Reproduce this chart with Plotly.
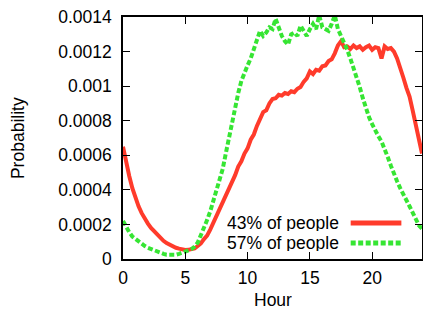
import plotly.graph_objects as go

# hours sampled every quarter hour
hours = [i * 0.25 for i in range(97)]

# 43% of people (units of 1e-4)
red_vals = [
    6.5, 5.6, 4.8, 4.1, 3.55, 3.05, 2.65, 2.3, 2.05, 1.8, 1.6, 1.4, 1.2, 1.05, 0.92, 0.82,
    0.72, 0.65, 0.6, 0.55, 0.52, 0.53, 0.55, 0.62, 0.75, 0.9, 1.15, 1.35, 1.7, 2.1, 2.45, 2.8,
    3.2, 3.65, 4.05, 4.5, 4.85, 5.35, 5.65, 6.1, 6.4, 6.9, 7.2, 7.7, 8.1, 8.5, 8.6, 9.0,
    9.25, 9.3, 9.5, 9.45, 9.6, 9.55, 9.7, 9.65, 9.85, 9.95, 10.25, 10.45, 10.85, 10.7, 10.95, 10.9,
    11.15, 11.2, 11.45, 11.55, 11.9, 12.35, 12.6, 12.25, 12.3, 12.15, 12.35, 12.2, 12.3, 12.1, 12.25, 12.35,
    12.1, 12.25, 12.2, 11.6, 12.3, 12.15, 12.2, 12.0, 11.6, 11.1, 10.5, 9.9, 9.4, 8.6, 7.8, 7.0,
    6.1,
]

# 57% of people (units of 1e-4)
green_vals = [
    2.2, 1.85, 1.55, 1.3, 1.15, 1.0, 0.85, 0.75, 0.65, 0.58, 0.5, 0.42, 0.32, 0.3, 0.25, 0.24,
    0.22, 0.25, 0.3, 0.35, 0.4, 0.5, 0.58, 0.72, 0.95, 1.35, 1.8, 2.25, 2.75, 3.35, 4.1, 4.5,
    5.2, 6.1, 7.0, 7.9, 8.8, 9.6, 10.3, 10.8, 11.2, 11.6, 12.1, 12.7, 13.2, 12.9, 13.1, 13.4,
    13.3, 13.9, 13.3, 12.9, 12.6, 12.4, 13.0, 13.1, 12.9, 13.5, 13.2, 12.9, 13.3, 13.6, 13.3, 14.1,
    13.4, 13.3, 13.2, 13.6, 14.1, 13.3, 12.9, 12.6, 12.1, 11.6, 11.1, 10.5, 9.95, 9.3, 8.7, 8.2,
    7.8, 7.4, 7.1, 6.8, 6.4, 5.9, 5.4, 4.9, 4.5, 4.1, 3.8, 3.4, 3.05, 2.7, 2.35, 1.95,
    1.75,
]

series_names = ["43% of people", "57% of people"]
y_tickvals = [0, 0.0002, 0.0004, 0.0006, 0.0008, 0.001, 0.0012, 0.0014]
y_ticktext = ["0", "0.0002", "0.0004", "0.0006", "0.0008", "0.001", "0.0012", "0.0014"]
x_tickvals = [0, 5, 10, 15, 20]

RED = "#ff3b2b"
GREEN = "#36e533"
DASH = "5px,2.5px"
FONT = "Liberation Sans, Arial, sans-serif"
FS = 17.5

red = [v * 1e-4 for v in red_vals]
green = [v * 1e-4 for v in green_vals]

fig = go.Figure()
fig.add_trace(go.Scatter(x=hours, y=red, mode="lines", name=series_names[0],
                         line=dict(color=RED, width=4), showlegend=False))
fig.add_trace(go.Scatter(x=hours, y=green, mode="lines", name=series_names[1],
                         line=dict(color=GREEN, width=4, dash=DASH), showlegend=False))

axis_common = dict(showline=True, linecolor="black", linewidth=1.5, mirror="allticks",
                   ticks="inside", ticklen=7, tickwidth=1.2, tickcolor="black",
                   showgrid=False, zeroline=False, automargin=False,
                   tickfont=dict(family=FONT, size=FS, color="black"))

fig.update_xaxes(range=[0, 24], tickvals=x_tickvals, ticklabelstandoff=2, **axis_common)
fig.update_yaxes(range=[0, 0.0014], tickvals=y_tickvals, ticktext=y_ticktext,
                 ticklabelstandoff=6, **axis_common)

# legend (gnuplot style: text left, sample right)
leg_y = [0.149, 0.066]
for name, col, dash, yy in zip(series_names, [RED, GREEN], ["solid", DASH], leg_y):
    fig.add_annotation(text=name, xref="paper", yref="paper", x=0.725, y=yy,
                       xanchor="right", yanchor="middle", showarrow=False,
                       height=16, valign="middle", borderpad=0,
                       font=dict(family=FONT, size=FS, color="black"))
    fig.add_shape(type="line", xref="paper", yref="paper", x0=0.7615, x1=0.931, y0=yy, y1=yy,
                  line=dict(color=col, width=5, dash=dash))

fig.add_annotation(text="Probability", xref="paper", yref="paper", x=-0.351, y=0.5,
                   textangle=-90, showarrow=False, xanchor="center", yanchor="middle",
                   font=dict(family=FONT, size=FS, color="black"))
fig.add_annotation(text="Hour", xref="paper", yref="paper", x=0.5, y=-0.1695,
                   showarrow=False, xanchor="center", yanchor="middle",
                   height=16, valign="middle", borderpad=0,
                   font=dict(family=FONT, size=FS, color="black"))

fig.update_layout(width=423, height=309, margin=dict(l=123, r=1, t=17, b=50),
                  plot_bgcolor="white", paper_bgcolor="white",
                  font=dict(family=FONT, size=FS, color="black"))

fig.write_html("out.html", config={"displayModeBar": False},
               post_script="document.body.style.margin='0';document.body.style.overflow='hidden';")
